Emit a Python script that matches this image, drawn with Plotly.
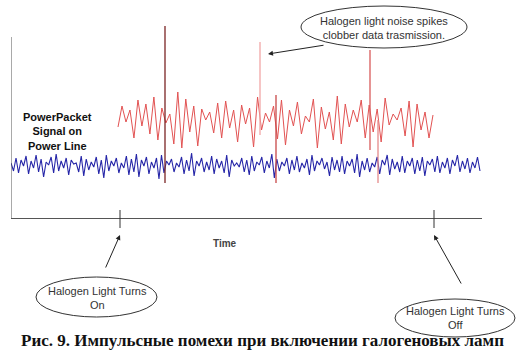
import plotly.graph_objects as go

# ---------------- data ----------------
# time axis (arbitrary units) and signal amplitudes
blue_t0 = 0.0
blue_dt = 469 / 187
blue_signal = [
    55, 47, 60, 45, 58, 52, 62, 44, 57, 50,
    63, 46, 59, 41, 56, 53, 61, 45, 64, 47,
    57, 50, 60, 43, 58, 54, 55, 46, 62, 42,
    59, 48, 56, 51, 61, 44, 58, 40, 63, 47,
    57, 52, 60, 45, 55, 50, 62, 43, 59, 46,
    64, 41, 58, 52, 61, 44, 56, 50, 60, 39,
    63, 45, 57, 53, 59, 46, 55, 51, 61, 44,
    58, 47, 65, 42, 57, 52, 60, 46, 56, 48,
    62, 44, 59, 50, 57, 45, 63, 41, 58, 52,
    55, 51, 60, 46, 58, 43, 62, 47, 56, 53,
    61, 45, 57, 50, 64, 40, 59, 47, 56, 52,
    60, 44, 58, 48, 62, 46, 55, 50, 59, 43,
    63, 47, 57, 53, 60, 49, 56, 42, 61, 48,
    58, 46, 62, 44, 57, 52, 59, 45, 64, 41,
    57, 48, 60, 46, 55, 51, 61, 44, 58, 53,
    63, 43, 59, 49, 56, 46, 62, 45, 57, 52,
    60, 44, 58, 47, 61, 42, 57, 53, 59, 46,
    62, 45, 56, 50, 60, 44, 58, 52, 63, 46,
    57, 49, 60, 45, 56, 50, 61, 47,
]

red_t0 = 107.0
red_dt = 315 / 79
red_signal = [
    91, 112, 96, 108, 80, 118, 92, 114, 84, 121,
    78, 110, 95, 104, 74, 126, 70, 119, 86, 112,
    72, 109, 98, 106, 85, 115, 80, 117, 90, 108,
    76, 113, 94, 110, 71, 121, 88, 105, 96, 112,
    79, 118, 73, 108, 92, 116, 84, 102, 96, 119,
    70, 111, 89, 106, 78, 122, 74, 114, 91, 108,
    96, 118, 80, 113, 86, 109, 76, 120, 93, 104,
    98, 110, 82, 117, 71, 114, 88, 106, 80, 103,
]

# noise spikes: time, top and bottom amplitude
spike_t = [154, 249, 265, 359, 367]
spike_top = [192, 176, 123, 168, 98]
spike_bottom = [35, 83, 35, 68, 35]

# events on the time axis
event_t = [109, 423]
event_labels = ["Halogen Light Turns<br>On", "Halogen Light Turns<br>Off"]

title_text = "Рис. 9. Импульсные помехи при включении галогеновых ламп"
signal_label = "PowerPacket<br>Signal on<br>Power Line"
noise_label = "Halogen light noise spikes<br>clobber data trasmission."
x_label = "Time"

# ---------------- styles ----------------
spike_colors = ["#7a2424", "#f2a6a6", "#c84848", "#d85a5a", "#e58a8a"]
W, H = 517, 359
ML, MR, MT, MB = 11, 35, 0, 141
PW, PH = W - ML - MR, H - MT - MB


def px_x(px):
    return (px - ML) / PW


def px_y(py):
    return (MT + PH - py) / PH


blue_t = [blue_t0 + i * blue_dt for i in range(len(blue_signal))]
red_t = [red_t0 + i * red_dt for i in range(len(red_signal))]

fig = go.Figure()
fig.add_trace(go.Scatter(x=blue_t, y=blue_signal, mode="lines",
                         line=dict(color="#2626a8", width=1.1), hoverinfo="skip"))
fig.add_trace(go.Scatter(x=red_t, y=red_signal, mode="lines",
                         line=dict(color="#e25252", width=1), hoverinfo="skip"))
for t, top, bot, c in zip(spike_t, spike_top, spike_bottom, spike_colors):
    fig.add_trace(go.Scatter(x=[t, t], y=[top, bot], mode="lines",
                             line=dict(color=c, width=1.3), hoverinfo="skip"))

shapes = []
# left axis line (stops below the top of the figure)
shapes.append(dict(type="line", xref="x", yref="y", x0=0, x1=0, y0=0, y1=181,
                   line=dict(color="#555555", width=1)))
# event tick marks
for t in event_t:
    shapes.append(dict(type="line", xref="x", yref="paper", x0=t, x1=t,
                       y0=px_y(210), y1=px_y(228), line=dict(color="#333333", width=1)))
# ellipses
ellipses = [(301, 467, 6, 48), (36, 157, 277, 317), (395, 515, 299, 337)]
for x0, x1, y0, y1 in ellipses:
    shapes.append(dict(type="circle", xref="paper", yref="paper",
                       x0=px_x(x0), x1=px_x(x1), y0=px_y(y1), y1=px_y(y0),
                       line=dict(color="#333333", width=1)))

font = "Arial, Liberation Sans, sans-serif"
ann = []


def label(px, py, text, size, color, family=font):
    ann.append(dict(xref="paper", yref="paper", x=px_x(px), y=px_y(py), text=text,
                    xanchor="center", yanchor="middle", showarrow=False,
                    font=dict(family=family, size=size, color=color)))


label(384, 28, noise_label, 11, "#333333")
ann.append(dict(xref="paper", yref="paper", x=px_x(268), y=px_y(54), text="",
                showarrow=True, ax=57, ay=-9, arrowhead=2, arrowsize=1,
                arrowwidth=1, arrowcolor="#222222"))
label_pos = [(97, 298), (455, 318)]
tails = [(-15, 34), (28, 50)]
for t, lab, (lx, ly), (ax, ay) in zip(event_t, event_labels, label_pos, tails):
    label(lx, ly, lab, 11, "#333333")
    ann.append(dict(xref="x", yref="paper", x=t, y=px_y(235), text="",
                    showarrow=True, ax=ax, ay=ay, arrowhead=2, arrowsize=1,
                    arrowwidth=1, arrowcolor="#222222"))
label(57, 132, "<b>" + signal_label + "</b>", 11, "#111111")
label(225, 243, "<b>" + x_label + "</b>", 10, "#444444")
label(262, 340, "<b>" + title_text + "</b>", 17, "#111111",
      family="Liberation Serif, Times New Roman, serif")

fig.update_layout(
    width=W, height=H, margin=dict(l=ML, r=MR, t=MT, b=MB),
    paper_bgcolor="white", plot_bgcolor="white", showlegend=False,
    xaxis=dict(range=[0, 471], showgrid=False, zeroline=False, showticklabels=False,
               ticks="", showline=True, linecolor="#555555", linewidth=1),
    yaxis=dict(range=[0, 218], showgrid=False, zeroline=False, showticklabels=False,
               ticks="", showline=False),
    shapes=shapes, annotations=ann,
)
fig.write_html("out.html", config={"displayModeBar": False},
               post_script="document.body.style.margin='0';")
